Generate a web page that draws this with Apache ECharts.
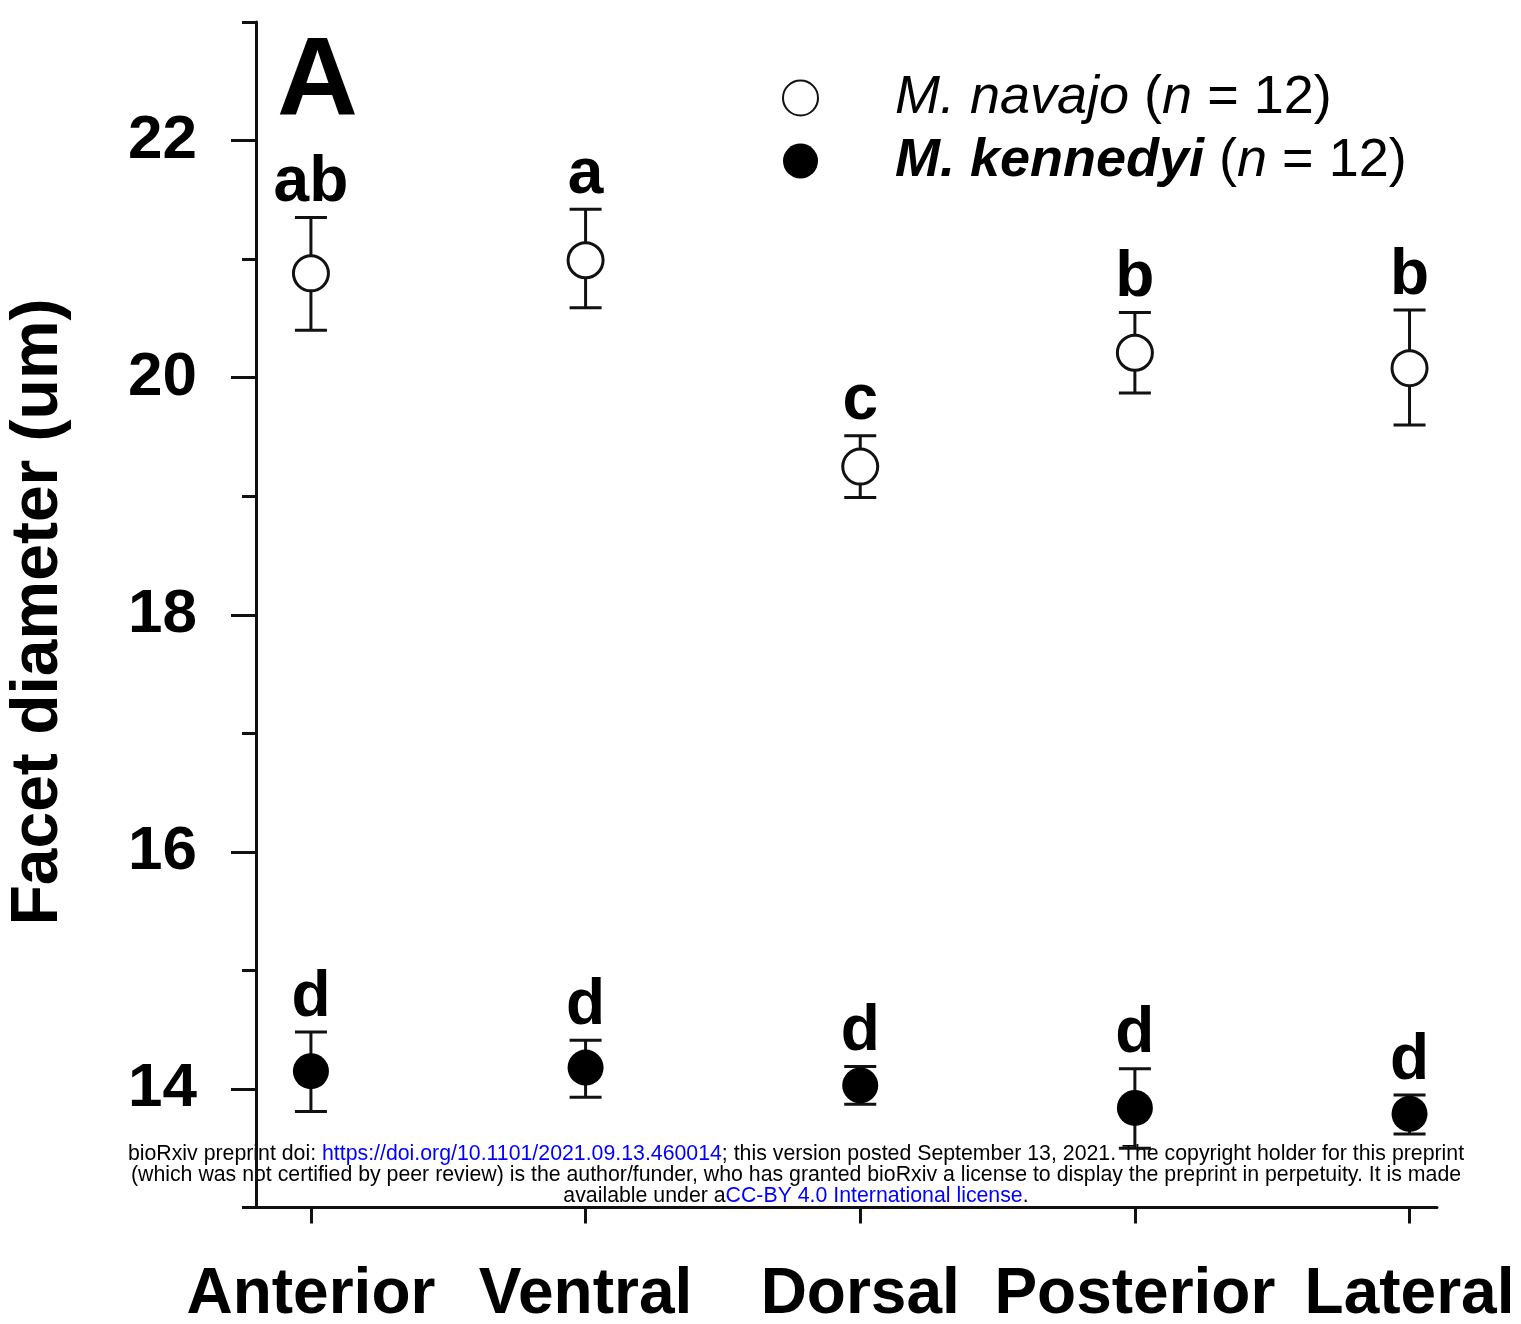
<!DOCTYPE html>
<html>
<head>
<meta charset="utf-8">
<script src="https://cdn.jsdelivr.net/npm/echarts@6/dist/echarts.min.js"></script>
<style>
html,body{margin:0;padding:0;background:#fff;}
#chart{width:1521px;height:1324px;}
</style>
</head>
<body>
<div id="chart"></div>
<script>
// ---- data ----
const categories = ['Anterior', 'Ventral', 'Dorsal', 'Posterior', 'Lateral'];
const navajoMean = [20.88, 20.99, 19.25, 20.21, 20.08];
const navajoLow  = [20.40, 20.59, 18.99, 19.87, 19.60];
const navajoHigh = [21.35, 21.42, 19.51, 20.55, 20.57];
const navajoLetters = ['ab', 'a', 'c', 'b', 'b'];
const kennedyiMean = [14.15, 14.18, 14.03, 13.84, 13.79];
const kennedyiLow  = [13.81, 13.93, 13.87, 13.50, 13.62];
const kennedyiHigh = [14.48, 14.41, 14.19, 14.17, 13.95];
const kennedyiLetters = ['d', 'd', 'd', 'd', 'd'];
const yMajorTicks = [14, 16, 18, 20, 22];
const yMinorTicks = [13, 15, 17, 19, 21, 23];
const seriesNames = ['M. navajo', 'M. kennedyi'];

const FONT = '"Liberation Sans", Arial, Helvetica, sans-serif';
const INK = '#111';

function errorData(low, high) {
  return categories.map((c, i) => [i, low[i], high[i]]);
}
function pointData(mean) {
  return categories.map((c, i) => [i, mean[i]]);
}
function errorRender(letters) {
  return function (params, api) {
    const i = params.dataIndex;
    const x = api.value(0), lo = api.value(1), hi = api.value(2);
    const pLo = api.coord([x, lo]);
    const pHi = api.coord([x, hi]);
    const hw = 16;
    const st = { stroke: INK, lineWidth: 3 };
    return {
      type: 'group',
      children: [
        { type: 'line', shape: { x1: pHi[0], y1: pHi[1], x2: pLo[0], y2: pLo[1] }, style: st },
        { type: 'line', shape: { x1: pHi[0] - hw, y1: pHi[1], x2: pHi[0] + hw, y2: pHi[1] }, style: st },
        { type: 'line', shape: { x1: pLo[0] - hw, y1: pLo[1], x2: pLo[0] + hw, y2: pLo[1] }, style: st },
        { type: 'text', style: { text: letters[i], x: pHi[0], y: pHi[1] - 34, align: 'center', verticalAlign: 'middle',
            font: 'bold 64px ' + FONT, fill: '#000' } }
      ]
    };
  };
}

const chart = echarts.init(document.getElementById('chart'), null, { renderer: 'canvas' });

const option = {
  backgroundColor: '#fff',
  animation: false,
  grid: { left: 256, right: 84, top: 22, bottom: 116.5, containLabel: false, outerBoundsMode: 'none' },
  xAxis: {
    type: 'value', min: -0.2, max: 4.1,
    splitLine: { show: false },
    axisLine: { show: true, onZero: false, lineStyle: { color: INK, width: 3 } },
    axisTick: { show: true, customValues: [0, 1, 2, 3, 4], length: 16, lineStyle: { color: INK, width: 3 } },
    axisLabel: {
      customValues: [0, 1, 2, 3, 4],
      formatter: v => categories[Math.round(v)] || '',
      margin: 88, verticalAlign: 'middle',
      fontFamily: FONT, fontWeight: 'bold', fontSize: 64, color: '#000'
    }
  },
  yAxis: [{
    type: 'value', min: 13, max: 23,
    splitLine: { show: false },
    axisLine: { show: true, onZero: false, lineStyle: { color: INK, width: 3 } },
    axisTick: { show: true, customValues: yMajorTicks, length: 25, lineStyle: { color: INK, width: 3 } },
    axisLabel: {
      customValues: yMajorTicks, margin: 59,
      fontFamily: FONT, fontWeight: 'bold', fontSize: 62, color: '#000'
    }
  }, {
    type: 'value', min: 13, max: 23, position: 'left',
    splitLine: { show: false },
    axisLine: { show: false, onZero: false },
    axisTick: { show: true, customValues: yMinorTicks, length: 14, lineStyle: { color: INK, width: 3 } },
    axisLabel: { show: false }
  }],
  legend: {
    orient: 'vertical', left: 777, top: 66,
    itemWidth: 35, itemHeight: 35, itemGap: 9,
    data: seriesNames,
    formatter: function (name) {
      if (name === 'M. navajo') return '{it|M. navajo} ({it|n} = 12)';
      return '{bi|M. kennedyi} ({it|n} = 12)';
    },
    textStyle: {
      fontFamily: FONT, fontSize: 54, color: '#000', padding: [0, 0, 0, 72],
      rich: {
        it: { fontFamily: FONT, fontSize: 54, fontStyle: 'italic', color: '#000' },
        bi: { fontFamily: FONT, fontSize: 54, fontStyle: 'italic', fontWeight: 'bold', color: '#000' }
      }
    }
  },
  series: [
    { name: 'navajo-err', type: 'custom', renderItem: errorRender(navajoLetters), data: errorData(navajoLow, navajoHigh), z: 1, silent: true },
    { name: 'kennedyi-err', type: 'custom', renderItem: errorRender(kennedyiLetters), data: errorData(kennedyiLow, kennedyiHigh), z: 1, silent: true },
    { name: seriesNames[0], type: 'scatter', symbol: 'circle', symbolSize: 35, data: pointData(navajoMean), z: 3,
      itemStyle: { color: '#fff', borderColor: INK, borderWidth: 3, opacity: 1 } },
    { name: seriesNames[1], type: 'scatter', symbol: 'circle', symbolSize: 36, data: pointData(kennedyiMean), z: 3,
      itemStyle: { color: '#000', borderColor: '#000', borderWidth: 0, opacity: 1 } }
  ],
  graphic: [
    { type: 'text', left: 277, top: 28, style: { text: 'A', font: 'bold 112px ' + FONT, fill: '#000' } },
    { type: 'text', x: 39, y: 612, rotation: Math.PI / 2,
      style: { text: 'Facet diameter (um)', font: 'bold 66px ' + FONT, fill: '#000', align: 'center', verticalAlign: 'middle' } },
    { type: 'text', x: 796, y: 1154, style: {
        text: '{k|bioRxiv preprint doi: }{b|https://doi.org/10.1101/2021.09.13.460014}{k|; this version posted September 13, 2021. The copyright holder for this preprint}',
        align: 'center', verticalAlign: 'middle',
        rich: { k: { font: '21.3px ' + FONT, fill: '#000' }, b: { font: '21.3px ' + FONT, fill: '#0000ff' } } } },
    { type: 'text', x: 796, y: 1175, style: {
        text: '(which was not certified by peer review) is the author/funder, who has granted bioRxiv a license to display the preprint in perpetuity. It is made',
        align: 'center', verticalAlign: 'middle', font: '21.3px ' + FONT, fill: '#000' } },
    { type: 'text', x: 796, y: 1196, style: {
        text: '{k|available under a}{b|CC-BY 4.0 International license}{k|.}',
        align: 'center', verticalAlign: 'middle',
        rich: { k: { font: '21.3px ' + FONT, fill: '#000' }, b: { font: '21.3px ' + FONT, fill: '#0000ff' } } } }
  ]
};
chart.setOption(option);
</script>
</body>
</html>
